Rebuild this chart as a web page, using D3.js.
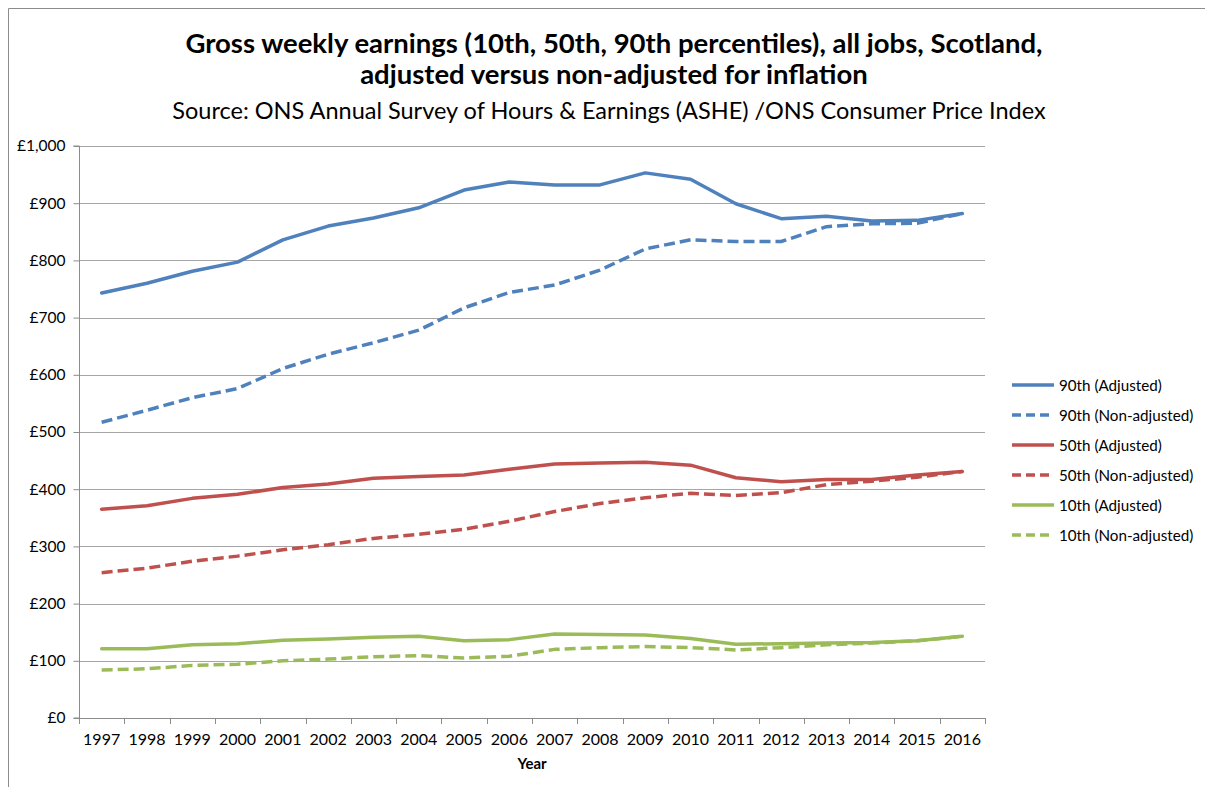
<!DOCTYPE html>
<html>
<head>
<meta charset="utf-8">
<script src="https://cdn.jsdelivr.net/npm/d3@7"></script>
<style>
  body { margin: 0; background: #fff; }
  svg { display: block; font-family: Lato, "Open Sans", sans-serif; }
</style>
</head>
<body>
<div id="chart"></div>
<script>
const width = 1205;
const height = 787;

// DATA
const years = ["1997", "1998", "1999", "2000", "2001", "2002", "2003", "2004", "2005", "2006",
  "2007", "2008", "2009", "2010", "2011", "2012", "2013", "2014", "2015", "2016"];

const p90Adjusted = [743, 760, 781, 797, 836, 860, 874, 892, 923, 937, 932, 932, 953, 942, 899, 873, 877, 869, 870, 882];
const p90NonAdjusted = [517, 538, 560, 576, 611, 636, 656, 678, 717, 744, 757, 783, 820, 836, 833, 833, 859, 864, 865, 882];
const p50Adjusted = [365, 371, 384, 391, 403, 409, 419, 422, 425, 435, 444, 446, 447, 442, 420, 413, 417, 417, 425, 431];
const p50NonAdjusted = [254, 262, 274, 283, 294, 303, 314, 321, 330, 344, 361, 375, 385, 393, 389, 394, 408, 414, 421, 431];
const p10Adjusted = [121, 121, 128, 130, 136, 138, 141, 143, 135, 137, 147, 146, 145, 139, 129, 130, 131, 132, 135, 143];
const p10NonAdjusted = [84, 86, 92, 94, 100, 103, 107, 109, 105, 108, 120, 123, 125, 123, 119, 123, 128, 131, 135, 143];

const yTicks = [0, 100, 200, 300, 400, 500, 600, 700, 800, 900, 1000];

const series = [
  { name: "90th (Adjusted)", values: p90Adjusted, color: "#4f81bd", dashed: false },
  { name: "90th (Non-adjusted)", values: p90NonAdjusted, color: "#4f81bd", dashed: true },
  { name: "50th (Adjusted)", values: p50Adjusted, color: "#c0504d", dashed: false },
  { name: "50th (Non-adjusted)", values: p50NonAdjusted, color: "#c0504d", dashed: true },
  { name: "10th (Adjusted)", values: p10Adjusted, color: "#9bbb59", dashed: false },
  { name: "10th (Non-adjusted)", values: p10NonAdjusted, color: "#9bbb59", dashed: true }
];

const plot = { left: 79, right: 985, top: 146, bottom: 718 };

const svg = d3.select("#chart")
  .append("svg")
  .attr("width", width)
  .attr("height", height);

// outer frame (partly cut off)
svg.append("path")
  .attr("d", `M8.5,${height} V8.5 H${width}`)
  .attr("fill", "none")
  .attr("stroke", "#8c8c8c")
  .attr("stroke-width", 1);

// TITLES
svg.append("text")
  .attr("x", 614).attr("y", 53)
  .attr("text-anchor", "middle")
  .attr("font-size", 27.5).attr("font-weight", "bold")
  .text("Gross weekly earnings (10th, 50th, 90th percentiles), all jobs, Scotland,");
svg.append("text")
  .attr("x", 614).attr("y", 84)
  .attr("text-anchor", "middle")
  .attr("font-size", 27.5).attr("font-weight", "bold")
  .text("adjusted versus non-adjusted for inflation");
svg.append("text")
  .attr("x", 609).attr("y", 119)
  .attr("text-anchor", "middle")
  .attr("font-size", 23.5)
  .text("Source: ONS Annual Survey of Hours & Earnings (ASHE) /ONS Consumer Price Index");

// SCALES
const x = d3.scaleBand()
  .domain(years)
  .range([plot.left, plot.right]);

const y = d3.scaleLinear()
  .domain([0, 1000])
  .range([plot.bottom, plot.top]);

// GRID
svg.append("g")
  .selectAll("line")
  .data(yTicks.filter(d => d > 0))
  .enter()
  .append("line")
  .attr("x1", plot.left)
  .attr("x2", plot.right)
  .attr("y1", d => Math.round(y(d)) + 0.5)
  .attr("y2", d => Math.round(y(d)) + 0.5)
  .attr("stroke", "#a6a6a6")
  .attr("stroke-width", 1.2);

// Y AXIS
const yAxis = svg.append("g")
  .attr("transform", `translate(${plot.left + 0.5},0)`)
  .call(d3.axisLeft(y)
    .tickValues(yTicks)
    .tickSize(6)
    .tickPadding(8)
    .tickFormat(d => "£" + d3.format(",")(d)));
yAxis.select(".domain").attr("stroke", "#8c8c8c").attr("d", `M-6,${plot.top}H0V${plot.bottom}H-6`);
yAxis.selectAll(".tick line").attr("stroke", "#8c8c8c");
yAxis.selectAll(".tick text")
  .attr("font-size", 15.5)
  .attr("font-family", "Lato, sans-serif")
  .attr("fill", "#000");

// X AXIS
const xAxis = svg.append("g")
  .attr("transform", `translate(0,${plot.bottom + 0.5})`)
  .call(d3.axisBottom(x).tickSize(0).tickPadding(15));
xAxis.select(".domain").attr("stroke", "#8c8c8c").attr("d", `M${plot.left},0H${plot.right}`);
xAxis.selectAll(".tick text")
  .attr("font-size", 16)
  .attr("font-family", "Lato, sans-serif")
  .attr("fill", "#000");

// x tick marks on category boundaries
svg.append("g")
  .selectAll("line")
  .data(years.concat(["end"]))
  .enter()
  .append("line")
  .attr("x1", (d, i) => Math.round(plot.left + i * x.step()) + 0.5)
  .attr("x2", (d, i) => Math.round(plot.left + i * x.step()) + 0.5)
  .attr("y1", plot.bottom)
  .attr("y2", plot.bottom + 6)
  .attr("stroke", "#8c8c8c");

svg.append("text")
  .attr("x", (plot.left + plot.right) / 2)
  .attr("y", 769)
  .attr("text-anchor", "middle")
  .attr("font-size", 15)
  .attr("font-weight", "bold")
  .text("Year");

// LINES
const line = d3.line()
  .x((d, i) => x(years[i]) + x.bandwidth() / 2)
  .y(d => y(d));

svg.append("g")
  .selectAll("path")
  .data(series)
  .enter()
  .append("path")
  .attr("d", d => line(d.values))
  .attr("fill", "none")
  .attr("stroke", d => d.color)
  .attr("stroke-width", 3.5)
  .attr("stroke-linejoin", "round")
  .attr("stroke-linecap", d => d.dashed ? "butt" : "round")
  .attr("stroke-dasharray", d => d.dashed ? "11,5" : null);

// LEGEND
const legend = svg.append("g")
  .selectAll("g")
  .data(series)
  .enter()
  .append("g")
  .attr("transform", (d, i) => `translate(1012,${385 + i * 30})`);

legend.append("line")
  .attr("x1", 0).attr("x2", 42)
  .attr("y1", 0).attr("y2", 0)
  .attr("stroke", d => d.color)
  .attr("stroke-width", 3.5)
  .attr("stroke-dasharray", d => d.dashed ? "9,5" : null);

legend.append("text")
  .attr("x", 47)
  .attr("y", 5.5)
  .attr("font-size", 15.2)
  .text(d => d.name);
</script>
</body>
</html>
